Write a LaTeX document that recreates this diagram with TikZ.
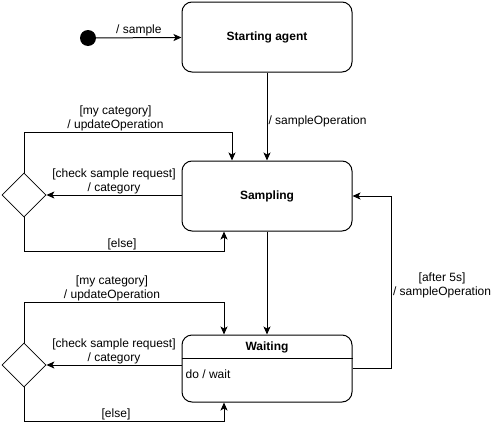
\documentclass[tikz,border=0pt]{standalone}
\usepackage{fontspec}
\setmainfont{Liberation Sans}
\usetikzlibrary{arrows.meta,shapes.geometric}

\begin{document}
\begin{tikzpicture}[%
    x = 1pt, y = -1pt,
    every node/.style = {font=\fontsize{12}{14}\selectfont, inner sep=1mm},
    state/.style = {draw, line width=1pt, rounded corners=10pt, minimum width=170pt, minimum height=70pt, font=\fontsize{12}{14}\selectfont\bfseries},
    initial/.style = {circle, fill=black, minimum size=16pt, inner sep=0pt},
    choice/.style = {diamond, draw, line width=0.8pt, minimum size=44pt, inner sep=0pt},
    lbl/.style = {align=center, inner sep=1pt},
    trans/.style = {draw=black, line width=1pt, -{Stealth[length=8pt, width=7pt, inset=2pt]}}%
  ]
  \useasboundingbox (0,0) rectangle (503,431);

  \node[initial] (init) at (88,38) {};
  \node[state] (start) at (267,37) {Starting agent};
  \node[state] (sampling) at (267,196) {Sampling};
  \node[state, minimum height=67pt] (waiting) at (267,368.5) {};
  \node[font=\fontsize{12}{14}\selectfont\bfseries] (waitingname) at (267,347) {Waiting};
  \node[anchor=west, inner sep=0pt] (waitingdo) at (185.5,374) {do / wait};
  \draw[line width=0.6pt] ([yshift=-24pt]waiting.north west) -- ([yshift=-24pt]waiting.north east);

  \node[choice] (check1) at (24,195) {};
  \node[choice] (check2) at (24,365) {};

  \coordinate (mine1) at (232,132);
  \coordinate (else1) at (224,251);
  \coordinate (mine2) at (224,302);
  \coordinate (else2) at (224,421);

  \draw[trans] (init) -- (start) node[midway, above, lbl] {/ sample};
  \draw[trans] (start) -- (sampling) node[pos=0.55, anchor=west, lbl] {/ sampleOperation};
  \draw[trans] (sampling) -- (waiting);

  % sampling loop
  \draw[trans] (sampling.west |- check1.east) -- (check1.east)
    node[midway, above, lbl] {[check sample request]\\/ category};
  \draw[trans] (check1.north) |- (mine1)
    node[pos=0.72, above, lbl] {[my category]\\/ updateOperation} -- (mine1 |- sampling.north);
  \draw[trans] (check1.south) |- (else1)
    node[pos=0.745, above, lbl] {[else]} -- (else1 |- sampling.south);

  % waiting loop
  \draw[trans] (waiting.west |- check2.east) -- (check2.east)
    node[midway, above, lbl] {[check sample request]\\/ category};
  \draw[trans] (check2.north) |- (mine2)
    node[pos=0.72, above, lbl] {[my category]\\/ updateOperation} -- (mine2 |- waiting.north);
  \draw[trans] (check2.south) |- (else2)
    node[pos=0.73, above, lbl] {[else]} -- (else2 |- waiting.south);

  \draw[trans] (waiting.east) -| ([xshift=39pt]sampling.east)
    node[pos=0.74, right, lbl] {[after 5s]\\/ sampleOperation} -- (sampling.east);
\end{tikzpicture}
\end{document}
